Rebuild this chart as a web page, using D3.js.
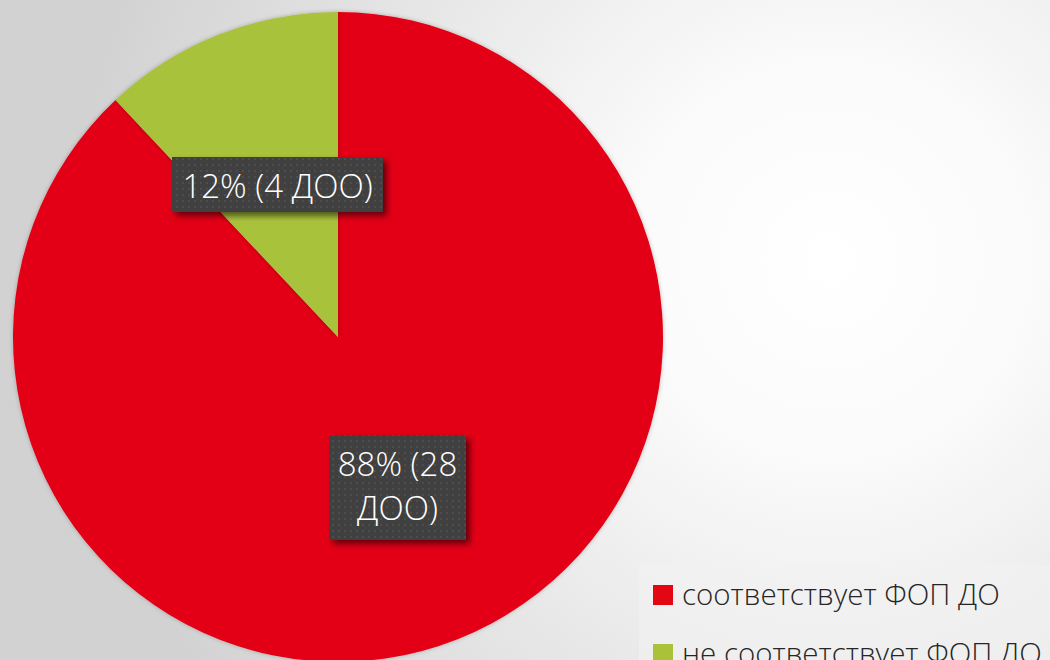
<!DOCTYPE html>
<html>
<head>
<meta charset="utf-8"/>
<title>ФОП ДО</title>
<script src="https://cdn.jsdelivr.net/npm/d3@7"></script>
<style>
  body { margin: 0; overflow: hidden; }
  svg text { font-family: "Open Sans", "Noto Sans", sans-serif; }
</style>
</head>
<body>
<div id="chart"></div>
<script>
// data
var categories = ["соответствует ФОП ДО", "не соответствует ФОП ДО"];
var percents = [88, 12];
var counts = [28, 4];
var colors = ["#e30613", "#a9c23a"];

var w = 1050, h = 660;
var cx = 338, cy = 337, r = 325;

var svg = d3.select("#chart").append("svg")
    .attr("width", w).attr("height", h);

var defs = svg.append("defs");

// background radial gradient
var bg = defs.append("radialGradient").attr("id", "bg")
    .attr("gradientUnits", "userSpaceOnUse")
    .attr("cx", 830).attr("cy", 260).attr("r", 760);
bg.append("stop").attr("offset", "0%").attr("stop-color", "#ffffff");
bg.append("stop").attr("offset", "25%").attr("stop-color", "#fbfbfb");
bg.append("stop").attr("offset", "100%").attr("stop-color", "#d2d2d2");

// dotted texture for label boxes
var pat = defs.append("pattern").attr("id", "dots")
    .attr("patternUnits", "userSpaceOnUse")
    .attr("width", 6).attr("height", 6);
pat.append("rect").attr("width", 6).attr("height", 6).attr("fill", "#404040");
pat.append("rect").attr("x", 2).attr("y", 2).attr("width", 2).attr("height", 2).attr("fill", "#4d4d4d");

var sh = defs.append("filter").attr("id", "shadow")
    .attr("x", "-20%").attr("y", "-20%").attr("width", "150%").attr("height", "150%");
sh.append("feDropShadow").attr("dx", 4).attr("dy", 4).attr("stdDeviation", 3)
    .attr("flood-color", "#000").attr("flood-opacity", 0.55);

var pieShadow = defs.append("filter").attr("id", "pieShadow")
    .attr("x", "-10%").attr("y", "-10%").attr("width", "120%").attr("height", "120%");
pieShadow.append("feDropShadow").attr("dx", 0).attr("dy", 0).attr("stdDeviation", 2)
    .attr("flood-color", "#000").attr("flood-opacity", 0.25);

svg.append("rect").attr("width", w).attr("height", h).attr("fill", "url(#bg)");

// pie
var pie = d3.pie().sort(null).value(function(d) { return d; });
var arcs = pie(percents);
var arc = d3.arc().innerRadius(0).outerRadius(r);

var g = svg.append("g").attr("transform", "translate(" + cx + "," + cy + ")");
g.selectAll("path")
    .data(arcs)
    .enter().append("path")
    .attr("d", arc)
    .attr("fill", function(d, i) { return colors[i]; })
    .attr("filter", "url(#pieShadow)");

// labels
var labelBoxes = [
  { lines: [percents[1] + "% (" + counts[1] + " ДОО)"], x: 172, y: 157, w: 211, h: 55 },
  { lines: [percents[0] + "% (" + counts[0], "ДОО)"], x: 329, y: 435, w: 137, h: 105 }
];

labelBoxes.forEach(function(b) {
  var lg = svg.append("g");
  lg.append("rect")
    .attr("x", b.x).attr("y", b.y).attr("width", b.w).attr("height", b.h)
    .attr("fill", "url(#dots)")
    .attr("filter", "url(#shadow)");
  var t = lg.append("text")
    .attr("text-anchor", "middle")
    .attr("fill", "#ffffff")
    .attr("font-size", 33)
    .attr("font-weight", 300);
  b.lines.forEach(function(line, i) {
    t.append("tspan")
      .attr("x", b.x + b.w / 2)
      .attr("y", b.y + 41 + i * 44)
      .text(line);
  });
});

// legend
var legend = svg.append("g");
legend.append("rect")
  .attr("x", 639).attr("y", 565).attr("width", 420).attr("height", 110)
  .attr("fill", "#f2f2f2").attr("fill-opacity", 0.6);

var items = legend.selectAll("g.item")
  .data(categories)
  .enter().append("g").attr("class", "item")
  .attr("transform", function(d, i) { return "translate(653," + (585 + i * 59) + ")"; });
items.append("rect")
  .attr("width", 20).attr("height", 20)
  .attr("fill", function(d, i) { return colors[i]; });
items.append("text")
  .attr("x", 29).attr("y", 20)
  .attr("font-size", 29.5)
  .attr("font-weight", 300)
  .attr("fill", "#262626")
  .text(function(d) { return d; });
</script>
</body>
</html>
